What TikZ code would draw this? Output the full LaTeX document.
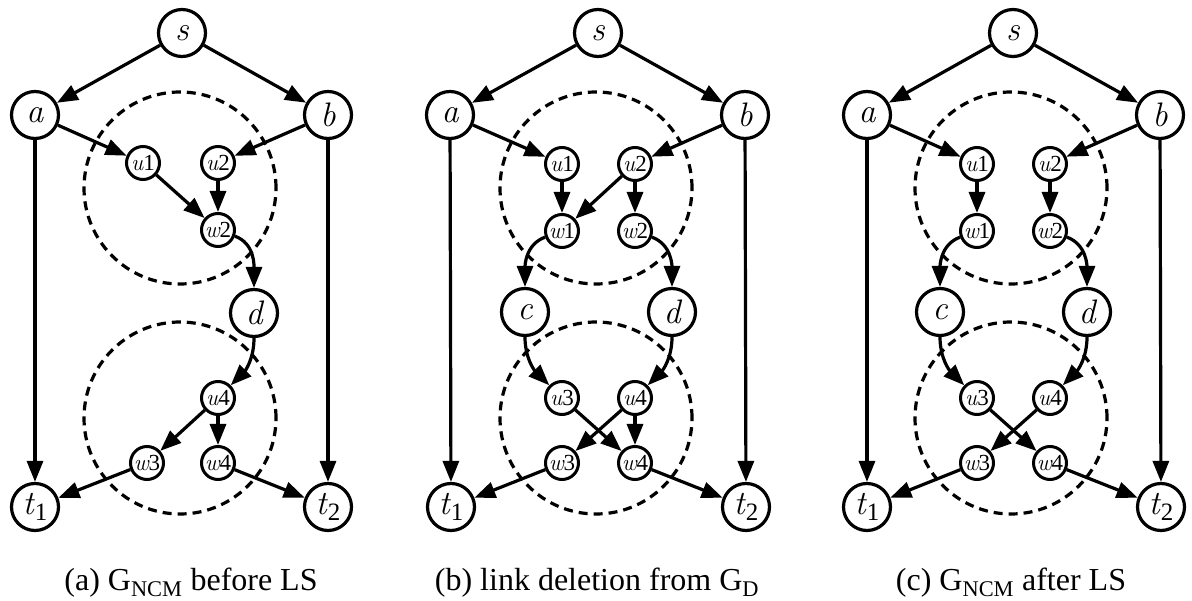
\documentclass[tikz,border=0pt]{standalone}
\usepackage{fontspec}
\setmainfont{Liberation Serif}
\newfontfamily\lmit{Latin Modern Roman}
\usetikzlibrary{arrows.meta}
\tikzset{
  big/.style={circle,draw,fill=white,line width=3.2pt,minimum size=47pt,inner sep=0pt,font=\fontsize{34}{34}\selectfont},
  small/.style={circle,draw,fill=white,line width=3pt,minimum size=33pt,inner sep=0pt,font=\fontsize{23}{23}\selectfont},
  arr/.style={line width=3.2pt,-{Triangle[length=21pt,width=16pt]}},
  region/.style={draw,line width=3.2pt,dash pattern=on 9pt off 6pt},
  captext/.style={anchor=base,font=\fontsize{32}{32}\selectfont,inner sep=0pt}
}
\newcommand{\vi}[1]{{\lmit\itshape #1}}
\newcommand{\tsub}[2]{\vi{#1}\kern1pt\raisebox{-6pt}{\fontsize{25}{25}\selectfont #2}}
\begin{document}
\begin{tikzpicture}[x=1pt,y=1pt]
\useasboundingbox (0,0) rectangle (1192,-601);
% ---------------- panel (a)
\begin{scope}[xshift=0pt]
\draw[region] (180,-188) circle (96);
\draw[region] (180,-418) circle (96);
\node[big] (A-s) at (182,-33) {\vi{s}};
\node[big] (A-a) at (35,-115) {\vi{a}};
\node[big] (A-b) at (328,-115) {\vi{b}};
\node[small] (A-u1) at (143,-163) {\vi{u}1};
\node[small] (A-u2) at (218,-163) {\vi{u}2};
\node[small] (A-w2) at (218,-230) {\vi{w}2};
\node[big] (A-d) at (254,-313) {\vi{d}};
\node[small] (A-u4) at (218,-398) {\vi{u}4};
\node[small] (A-w3) at (147,-463) {\vi{w}3};
\node[small] (A-w4) at (218,-463) {\vi{w}4};
\node[big] (A-t1) at (35,-507) {\tsub{t}{1}};
\node[big] (A-t2) at (328,-507) {\tsub{t}{2}};
\draw[arr] (A-s) -- (A-a);
\draw[arr] (A-s) -- (A-b);
\draw[arr] (A-a) -- (A-u1);
\draw[arr] (A-b) -- (A-u2);
\draw[arr] (A-u1) -- (A-w2);
\draw[arr] (A-u2) -- (A-w2);
\draw[arr] (A-w2) to[out=-20,in=90] (A-d);
\draw[arr] (A-d) to[out=-90,in=45] (A-u4);
\draw[arr] (A-u4) -- (A-w3);
\draw[arr] (A-u4) -- (A-w4);
\draw[arr] (A-w3) -- (A-t1);
\draw[arr] (A-w4) -- (A-t2);
\draw[arr] (A-a) -- (A-t1);
\draw[arr] (A-b) -- (A-t2);
\node[captext] (A-cap) at (191,-590) {(a) G\textsubscript{NCM} before LS};
\end{scope}
% ---------------- panel (b)
\begin{scope}[xshift=416pt]
\draw[region] (180,-188) circle (96);
\draw[region] (180,-418) circle (96);
\node[big] (B-s) at (182,-33) {\vi{s}};
\node[big] (B-a) at (34,-115) {\vi{a}};
\node[big] (B-b) at (329,-115) {\vi{b}};
\node[small] (B-u1) at (146,-164) {\vi{u}1};
\node[small] (B-u2) at (219,-164) {\vi{u}2};
\node[small] (B-w1) at (146,-231) {\vi{w}1};
\node[small] (B-w2) at (219,-231) {\vi{w}2};
\node[big] (B-c) at (109,-312) {\vi{c}};
\node[big] (B-d) at (256,-312) {\vi{d}};
\node[small] (B-u3) at (146,-398) {\vi{u}3};
\node[small] (B-u4) at (219,-398) {\vi{u}4};
\node[small] (B-w3) at (146,-463) {\vi{w}3};
\node[small] (B-w4) at (219,-463) {\vi{w}4};
\node[big] (B-t1) at (35,-507) {\tsub{t}{1}};
\node[big] (B-t2) at (330,-507) {\tsub{t}{2}};
\draw[arr] (B-s) -- (B-a);
\draw[arr] (B-s) -- (B-b);
\draw[arr] (B-a) -- (B-u1);
\draw[arr] (B-b) -- (B-u2);
\draw[arr] (B-u1) -- (B-w1);
\draw[arr] (B-u2) -- (B-w1);
\draw[arr] (B-u2) -- (B-w2);
\draw[arr] (B-w1) to[out=200,in=90] (B-c);
\draw[arr] (B-w2) to[out=-20,in=90] (B-d);
\draw[arr] (B-c) to[out=-90,in=135] (B-u3);
\draw[arr] (B-d) to[out=-90,in=45] (B-u4);
\draw[arr] (B-u3) -- (B-w4);
\draw[arr] (B-u4) -- (B-w3);
\draw[arr] (B-u4) -- (B-w4);
\draw[arr] (B-w3) -- (B-t1);
\draw[arr] (B-w4) -- (B-t2);
\draw[arr] (B-a) -- (B-t1);
\draw[arr] (B-b) -- (B-t2);
\node[captext] (B-cap) at (181,-590) {(b) link deletion from G\textsubscript{D}};
\end{scope}
% ---------------- panel (c)
\begin{scope}[xshift=831pt]
\draw[region] (180,-188) circle (96);
\draw[region] (180,-418) circle (96);
\node[big] (C-s) at (182,-33) {\vi{s}};
\node[big] (C-a) at (36,-115) {\vi{a}};
\node[big] (C-b) at (329,-115) {\vi{b}};
\node[small] (C-u1) at (146,-164) {\vi{u}1};
\node[small] (C-u2) at (219,-164) {\vi{u}2};
\node[small] (C-w1) at (146,-231) {\vi{w}1};
\node[small] (C-w2) at (219,-231) {\vi{w}2};
\node[big] (C-c) at (109,-312) {\vi{c}};
\node[big] (C-d) at (256,-312) {\vi{d}};
\node[small] (C-u3) at (146,-398) {\vi{u}3};
\node[small] (C-u4) at (219,-398) {\vi{u}4};
\node[small] (C-w3) at (146,-463) {\vi{w}3};
\node[small] (C-w4) at (219,-463) {\vi{w}4};
\node[big] (C-t1) at (36,-507) {\tsub{t}{1}};
\node[big] (C-t2) at (330,-507) {\tsub{t}{2}};
\draw[arr] (C-s) -- (C-a);
\draw[arr] (C-s) -- (C-b);
\draw[arr] (C-a) -- (C-u1);
\draw[arr] (C-b) -- (C-u2);
\draw[arr] (C-u1) -- (C-w1);
\draw[arr] (C-u2) -- (C-w2);
\draw[arr] (C-w1) to[out=200,in=90] (C-c);
\draw[arr] (C-w2) to[out=-20,in=90] (C-d);
\draw[arr] (C-c) to[out=-90,in=135] (C-u3);
\draw[arr] (C-d) to[out=-90,in=45] (C-u4);
\draw[arr] (C-u3) -- (C-w4);
\draw[arr] (C-u4) -- (C-w3);
\draw[arr] (C-w3) -- (C-t1);
\draw[arr] (C-w4) -- (C-t2);
\draw[arr] (C-a) -- (C-t1);
\draw[arr] (C-b) -- (C-t2);
\node[captext] (C-cap) at (180,-590) {(c) G\textsubscript{NCM} after LS};
\end{scope}
\end{tikzpicture}
\end{document}
